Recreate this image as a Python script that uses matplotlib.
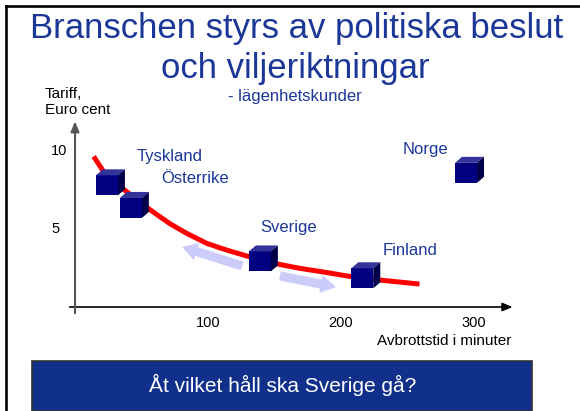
import matplotlib
matplotlib.use('Agg')
import matplotlib.pyplot as plt
import matplotlib.transforms as mtransforms
from matplotlib.patches import Polygon, Rectangle, FancyArrowPatch
from matplotlib.lines import Line2D

# data
countries = ['Tyskland', 'Österrike', 'Sverige', 'Finland', 'Norge']
outage_min = [24, 42, 139, 216, 294]
tariff_cent = [7.8, 6.35, 2.92, 1.84, 8.6]

curve_x = [14, 24, 38, 56, 71, 84, 99, 114, 130, 152, 169, 190, 208, 230, 259]
curve_y = [9.65, 8.35, 7.45, 6.26, 5.36, 4.72, 4.08, 3.65, 3.25, 2.76, 2.48, 2.2, 1.94, 1.72, 1.47]

xticks = [100, 200, 300]
yticks = [5, 10]

# label offsets from cube (pixels)
label_offsets = {'Tyskland': (30, 24), 'Österrike': (30, 25), 'Sverige': (0, 29),
                 'Finland': (20, 23), 'Norge': (-63, 19)}

BLUE_TXT = '#1b3797'
FONT = 'Liberation Sans'

W, H = 580, 411
fig = plt.figure(figsize=(W / 100, H / 100), dpi=100)
ax = fig.add_axes([0, 0, 1, 1])
ax.set_xlim((0 - 75) / 1.33, (W - 75) / 1.33)
ax.set_ylim((307 - H) / 15.6, 307 / 15.6)
ax.axis('off')


def fx(px):
    return px / W


def fy(py):
    return 1 - py / H


# slide frame
fig.add_artist(Line2D([fx(6), fx(6)], [fy(6), 0], color='black', lw=1.9))
fig.add_artist(Line2D([fx(6), 1], [fy(6), fy(6)], color='black', lw=1.9))

# title
fig.text(fx(297), fy(38), 'Branschen styrs av politiska beslut', ha='center', va='baseline',
         fontsize=25, color=BLUE_TXT, family=FONT)
fig.text(fx(295), fy(78), 'och viljeriktningar', ha='center', va='baseline',
         fontsize=25, color=BLUE_TXT, family=FONT)
fig.text(fx(295), fy(101), '- lägenhetskunder', ha='center', va='baseline',
         fontsize=12, color=BLUE_TXT, family=FONT)

fig.text(fx(45), fy(98), 'Tariff,', ha='left', va='baseline', fontsize=11, family=FONT)
fig.text(fx(45), fy(114), 'Euro cent', ha='left', va='baseline', fontsize=11, family=FONT)

# axes with arrows
ax.annotate('', xy=(329, 0), xytext=(-4, 0),
            arrowprops=dict(arrowstyle='-|>,head_length=0.6,head_width=0.25', color='black',
                            lw=1.2, shrinkA=0, shrinkB=0))
ax.annotate('', xy=(0, 11.9), xytext=(0, -0.4),
            arrowprops=dict(arrowstyle='-|>,head_length=0.6,head_width=0.25', color='#555555',
                            lw=1.5, shrinkA=0, shrinkB=0))

for t in yticks:
    ax.text(-18, t, str(t), ha='left', va='center', fontsize=10.5, family=FONT)
for t in xticks:
    ax.text(t, -1.03, str(t), ha='center', va='center', fontsize=10.5, family=FONT)
ax.text((511 - 75) / 1.33, (307 - 345) / 15.6, 'Avbrottstid i minuter', ha='right',
        va='baseline', fontsize=11, family=FONT)

# arrows showing direction
for tail, head in [((125.6, 2.63), (80.5, 3.85)), ((154.1, 1.99), (196.2, 1.28))]:
    ax.add_patch(FancyArrowPatch(tail, head,
                                 arrowstyle='simple,head_length=0.5,head_width=0.6,tail_width=0.3',
                                 mutation_scale=22, color='#ccccfa', lw=0,
                                 shrinkA=0, shrinkB=0, zorder=2))

# red curve
ax.plot(curve_x, curve_y, color='#ff0000', lw=3.6, solid_capstyle='butt',
        solid_joinstyle='round', zorder=3)

# cubes
front = [(-11, -10), (11, -10), (11, 10), (-11, 10)]
top = [(-11, 10), (11, 10), (18, 16), (-4, 16)]
side = [(11, -10), (18, -4), (18, 16), (11, 10)]
for name, x, y in zip(countries, outage_min, tariff_cent):
    tr = mtransforms.ScaledTranslation(x, y, ax.transData)
    for verts, col in [(front, '#000080'), (top, '#333399'), (side, '#00004a')]:
        ax.add_patch(Polygon(verts, closed=True, facecolor=col, edgecolor='none',
                             transform=mtransforms.IdentityTransform() + tr,
                             clip_on=False, zorder=4))
    dx, dy = label_offsets[name]
    ax.annotate(name, (x, y), xytext=(dx, dy), textcoords='offset pixels',
                ha='left', va='baseline', fontsize=12, color=BLUE_TXT, family=FONT)

# question box
fig.add_artist(Rectangle((fx(32), 0), fx(532) - fx(32), fy(361), facecolor='#10308c',
                         edgecolor='#333333', lw=1.2, transform=fig.transFigure))
fig.text(fx(283), fy(392), 'Åt vilket håll ska Sverige gå?', ha='center', va='baseline',
         fontsize=15, color='white', family=FONT)

fig.savefig('out.png', dpi=100)
